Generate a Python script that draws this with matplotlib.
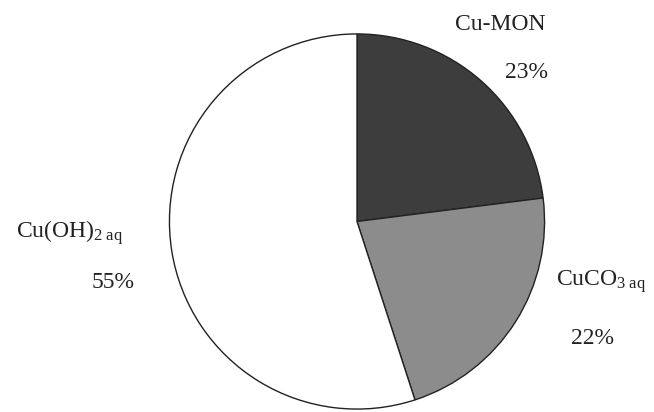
import matplotlib
matplotlib.use("Agg")
import matplotlib.pyplot as plt

plt.rcParams['font.family'] = ['Liberation Serif', 'DejaVu Serif']
plt.rcParams['mathtext.fontset'] = 'custom'
plt.rcParams['mathtext.rm'] = 'Liberation Serif'
plt.rcParams['mathtext.it'] = 'Liberation Serif:italic'
plt.rcParams['mathtext.bf'] = 'Liberation Serif:bold'

species = ["Cu-MON", "CuCO$_{3\\ \\mathrm{aq}}$", "Cu(OH)$_{2\\ \\mathrm{aq}}$"]
shares = [23, 22, 55]
colors = ["#3d3d3d", "#8c8c8c", "#ffffff"]

W, H = 654, 412
fig = plt.figure(figsize=(W / 100, H / 100), dpi=100)
cx, cy, r = 357, 221.5, 188.5
ax = fig.add_axes([(cx - r) / W, (H - cy - r) / H, 2 * r / W, 2 * r / H])
wedges, _ = ax.pie(shares, colors=colors, startangle=90, counterclock=False,
                   radius=1.0, wedgeprops=dict(edgecolor="#222222", linewidth=1.0))
ax.set_xlim(-1.005, 1.005)
ax.set_ylim(-1.005, 1.005)
ax.set_aspect('equal')
ax.axis('off')

# label positions (pixels, centre)
name_pos = [(500, 24), (601, 282), (70, 233)]
pct_pos = [(527, 73), (592, 338), (113, 282)]
for name, val, (nx, ny), (px, py) in zip(species, shares, name_pos, pct_pos):
    fig.text(nx / W, 1 - ny / H, name, ha='center', va='center', fontsize=17,
             color="#222222")
    fig.text(px / W, 1 - py / H, f"{val}%", ha='center', va='center', fontsize=17,
             color="#222222")

fig.savefig("out.png", dpi=100)
